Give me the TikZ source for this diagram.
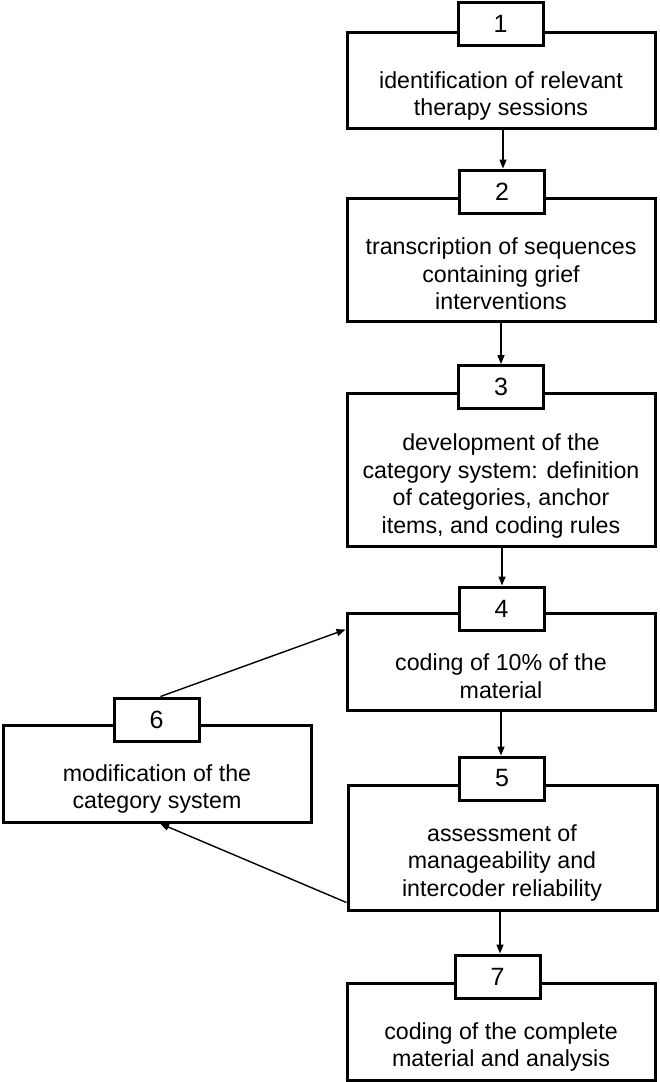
\documentclass[tikz,border=0pt]{standalone}
\usepackage{fontspec}
\setmainfont{Liberation Sans}
\usetikzlibrary{arrows.meta,calc}
\begin{document}
\begin{tikzpicture}[x=1pt,y=-1pt,
  mainbox/.style={draw,line width=3pt,inner sep=0pt,minimum width=308pt},
  numbox/.style={draw,fill=white,line width=3pt,inner sep=0pt,minimum width=85pt,minimum height=43pt,font=\fontsize{25}{28}\selectfont},
  txt/.style={align=center,inner sep=0pt,font=\fontsize{23.2}{27.5}\selectfont},
  arr/.style={-{Triangle[length=9pt,width=7pt]},line width=1.4pt}]
\useasboundingbox (0,0) rectangle (660,1082);
% main boxes
\node[mainbox,minimum height=96pt] (b1) at (501,80) {};
\node[mainbox,minimum height=123pt] (b2) at (501,259.5) {};
\node[mainbox,minimum height=153pt] (b3) at (501,469.5) {};
\node[mainbox,minimum height=97pt] (b4) at (501,661.5) {};
\node[mainbox,minimum height=125pt,minimum width=309pt] (b5) at (502.5,847.5) {};
\node[mainbox,minimum height=97pt] (b6) at (157,773.5) {};
\node[mainbox,minimum height=97pt] (b7) at (501,1031.5) {};
% number boxes
\node[numbox] (n1) at (500.5,23.5) {1};
\node[numbox] (n2) at (502,191.5) {2};
\node[numbox] (n3) at (501,387) {3};
\node[numbox] (n4) at (501.5,608.5) {4};
\node[numbox] (n5) at (502,778.5) {5};
\node[numbox] (n6) at (156.5,719.5) {6};
\node[numbox] (n7) at (497.5,976.5) {7};
% texts
\node[txt] (t1) at (501,96) {identification of relevant\\therapy sessions};
\node[txt] (t2) at (501,274) {transcription of sequences\\containing grief\\interventions};
\node[txt] (t3) at (501,486) {development of the\\category system: definition\\of categories, anchor\\items, and coding rules};
\node[txt] (t4) at (501,676) {coding of 10\% of the\\material};
\node[txt] (t5) at (502,863) {assessment of\\manageability and\\intercoder reliability};
\node[txt] (t6) at (157,789) {modification of the\\category system};
\node[txt] (t7) at (501,1047) {coding of the complete\\material and analysis};
% arrows
\draw[arr] ([xshift=2pt]b1.south) -- ([xshift=2pt]b1.south |- n2.north);
\draw[arr] (b2.south) -- (b2.south |- n3.north);
\draw[arr] ([xshift=1pt]b3.south) -- ([xshift=1pt]b3.south |- n4.north);
\draw[arr] (b4.south) -- (b4.south |- n5.north);
\draw[arr] ([xshift=-2.5pt]b5.south) -- ([xshift=-2.5pt]b5.south |- n7.north);
\draw[arr] ($(b5.south west)+(0,-9)$) -- ([xshift=3pt]b6.south);
\draw[arr] ([xshift=4pt]n6.north) -- ($(b4.north west)+(0,18)$);
\end{tikzpicture}
\end{document}
